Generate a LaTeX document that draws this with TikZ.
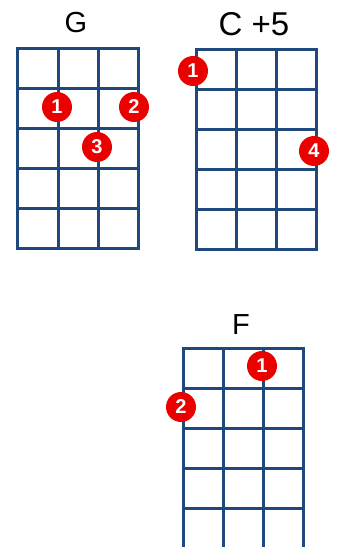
\documentclass[tikz,border=0pt]{standalone}
\usepackage{fontspec}
\setmainfont{Liberation Sans}
\definecolor{gridblue}{RGB}{31,73,125}
\definecolor{dotred}{RGB}{235,0,0}
\begin{document}
\begin{tikzpicture}[x=1pt,y=-1pt,
  gridline/.style={draw=gridblue,line width=3pt,line cap=rect},
  finger/.style={circle,fill=dotred,inner sep=0pt,minimum size=30pt,text=white,font=\bfseries\fontsize{20}{20}\selectfont},
  chordname/.style={font=\fontsize{29}{29}\selectfont,text=black,inner sep=0pt}]
\useasboundingbox (0,0) rectangle (339,547);
\fill[white] (0,0) rectangle (339,547);
\clip (0,0) rectangle (339,547);
% G
\node[chordname] (gname) at (76,23) {G};
\foreach \x in {17,58,98,138} \draw[gridline] (\x,48) -- (\x,248);
\foreach \y in {48,88,128,168,208,248} \draw[gridline] (17,\y) -- (138,\y);
\node[finger] (g1) at (57,107) {1};
\node[finger] (g2) at (134,107) {2};
\node[finger] (g3) at (97,147) {3};
% C +5
\node[chordname,font=\fontsize{33}{33}\selectfont] (cname) at (254,24) {C +5};
\foreach \x in {196,236,276,316} \draw[gridline] (\x,49) -- (\x,249);
\foreach \y in {49,89,129,169,209,249} \draw[gridline] (196,\y) -- (316,\y);
\node[finger] (c1) at (193,71) {1};
\node[finger] (c4) at (314,151) {4};
% F
\node[chordname] (fname) at (241,325) {F};
\foreach \x in {183,223,263,303} \draw[gridline] (\x,348) -- (\x,548);
\foreach \y in {348,388,428,468,508,548} \draw[gridline] (183,\y) -- (303,\y);
\node[finger] (f1) at (262,366) {1};
\node[finger] (f2) at (181,407) {2};
\end{tikzpicture}
\end{document}
